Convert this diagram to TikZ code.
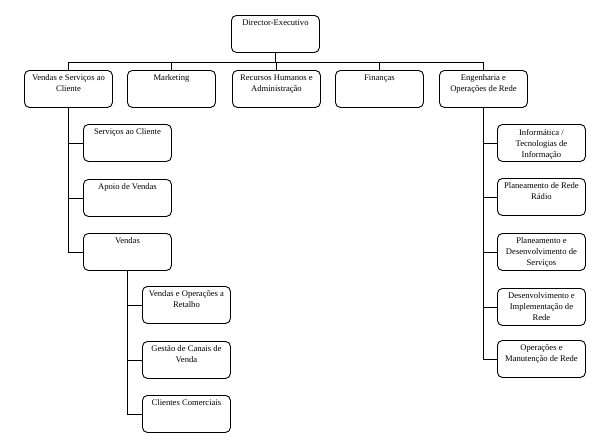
\documentclass[tikz,border=0pt]{standalone}
\usepackage{fontspec}
\setmainfont{Liberation Serif}
\newcommand\bxt[1]{\parbox[t][37pt][t]{88pt}{\centering\fontsize{8.6}{11}\selectfont\vspace*{4.5pt}#1}}
\begin{document}
\begin{tikzpicture}[x=1pt,y=-1pt,
  box/.style={draw, line width=0.9pt, rounded corners=5pt, inner sep=0pt, anchor=north west},
  link/.style={line width=0.9pt}]
\useasboundingbox (0,0) rectangle (596,447);
% top
\node[box] (dir) at (231,15) {\bxt{Director-Executivo}};
% row 2
\node[box] (vsc) at (24,70) {\bxt{Vendas e Serviços ao\\Cliente}};
\node[box] (mkt) at (127,70) {\bxt{Marketing}};
\node[box] (rh)  at (232,70) {\bxt{Recursos Humanos e\\Administração}};
\node[box] (fin) at (335,70) {\bxt{Finanças}};
\node[box] (eng) at (439,70) {\bxt{Engenharia e\\Operações de Rede}};
% left column
\node[box] (sc) at (83,124) {\bxt{Serviços ao Cliente}};
\node[box] (av) at (83,179) {\bxt{Apoio de Vendas}};
\node[box] (vd) at (83,233) {\bxt{Vendas}};
\node[box] (vor) at (142,286) {\bxt{Vendas e Operações a\\Retalho}};
\node[box] (gcv) at (142,341) {\bxt{Gestão de Canais de\\Venda}};
\node[box] (cc)  at (142,395) {\bxt{Clientes Comerciais}};
% right column
\node[box] (inf) at (497,124) {\bxt{Informática /\\Tecnologias de\\Informação}};
\node[box] (prr) at (497,178) {\bxt{Planeamento de Rede\\Rádio}};
\node[box] (pds) at (497,233) {\bxt{Planeamento e\\Desenvolvimento de\\Serviços}};
\node[box] (dim) at (497,288) {\bxt{Desenvolvimento e\\Implementação de\\Rede}};
\node[box] (omr) at (497,340) {\bxt{Operações e\\Manutenção de Rede}};
% connectors
\coordinate (bus) at (275,62);
\draw[link] (dir.south) -- (dir.south |- bus);
\draw[link] (vsc.north) -- (vsc.north |- bus) -- (eng.north |- bus) -- (eng.north);
\draw[link] (mkt.north) -- (mkt.north |- bus);
\draw[link] (rh.north) -- (rh.north |- bus);
\draw[link] (fin.north) -- (fin.north |- bus);
% left
\draw[link] (vsc.south) -- (vsc.south |- vd.west) -- (vd.west);
\draw[link] (sc.west) -- (sc.west -| vsc.south);
\draw[link] (av.west) -- (av.west -| vsc.south);
\draw[link] (vd.south) -- (vd.south |- cc.west) -- (cc.west);
\draw[link] (vor.west) -- (vor.west -| vd.south);
\draw[link] (gcv.west) -- (gcv.west -| vd.south);
% right
\draw[link] (eng.south) -- (eng.south |- omr.west) -- (omr.west);
\draw[link] (inf.west) -- (inf.west -| eng.south);
\draw[link] (prr.west) -- (prr.west -| eng.south);
\draw[link] (pds.west) -- (pds.west -| eng.south);
\draw[link] (dim.west) -- (dim.west -| eng.south);
\end{tikzpicture}
\end{document}
